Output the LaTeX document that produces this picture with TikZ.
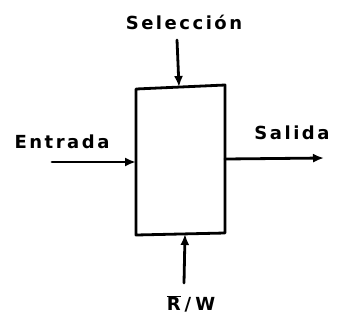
\documentclass[tikz,border=0pt]{standalone}
\usepackage{fontspec}
\setmainfont{DejaVu Sans}[LetterSpace=14]
\usetikzlibrary{arrows.meta}
\begin{document}
\begin{tikzpicture}[x=1pt,y=-1pt,
  pen/.style={line width=2.8pt,line cap=round,line join=round},
  sig/.style={pen,-{Latex[length=11pt,width=9pt]}},
  lbl/.style={font=\fontsize{18}{20}\bfseries\selectfont,inner sep=0pt}]
\useasboundingbox (0,0) rectangle (342,325);
% block
\draw[pen] (136,89) -- (225,85) -- (225,233) -- (136,235) -- cycle;
\coordinate (bt) at (179,87);
\coordinate (bl) at (136,162);
\coordinate (br) at (225,159);
\coordinate (bb) at (185,234);
% signal ends
\coordinate (st) at (177,40);
\coordinate (el) at (52,162);
\coordinate (sr) at (324,158);
\coordinate (rb) at (184,283);
\draw[sig] (st) -- (bt);
\draw[sig] (el) -- (bl);
\draw[sig] (br) -- (sr);
\draw[sig] (rb) -- (bb);
% labels
\node[lbl] (tsel) at (184,22) {Selección};
\node[lbl] (tent) at (62,142) {Entrada};
\node[lbl] (tsal) at (292,133) {Salida};
\node[lbl] (trw) at (191,304) {$\overline{\mbox{\bfseries R}}$\kern4pt/\kern4pt W};
\end{tikzpicture}
\end{document}
